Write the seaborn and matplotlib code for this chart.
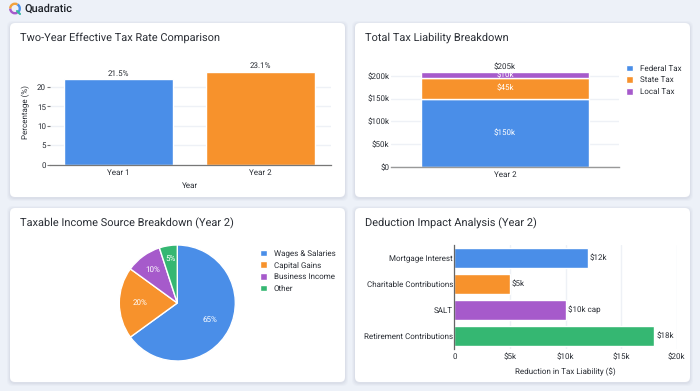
import matplotlib
matplotlib.use("Agg")
import matplotlib.pyplot as plt
from matplotlib.patches import FancyBboxPatch, Arc
import numpy as np
import pandas as pd
import seaborn as sns

BLUE, ORANGE, PURPLE, GREEN = "#4A8EE8", "#F7922C", "#A65ACB", "#35B772"
INK, GRID = "#2A2E35", "#EEF1F6"

years = ["Year 1", "Year 2"]
year_bar_heights = [22.1, 24.0]
year_labels = ["21.5%", "23.1%"]

tax_names = ["Federal Tax", "State Tax", "Local Tax"]
tax_values = [150, 45, 13]
tax_labels = ["$150k", "$45k", "$10k"]
tax_total_label = "$205k"

income_names = ["Wages & Salaries", "Capital Gains", "Business Income", "Other"]
income_shares = [65, 20, 10, 5]

deduction_names = ["Mortgage Interest", "Charitable Contributions", "SALT", "Retirement Contributions"]
deduction_values = [12, 5, 10, 18]
deduction_labels = ["$12k", "$5k", "$10k cap", "$18k"]

sns.set_theme(style="white")
plt.rcParams["font.family"] = ["Roboto", "DejaVu Sans"]
plt.rcParams["text.color"] = INK
plt.rcParams["text.hinting"] = "no_hinting"
plt.rcParams["text.hinting_factor"] = 1

W, H = 700, 391
fig = plt.figure(figsize=(W / 100, H / 100), dpi=100, facecolor="#EDF1F8")


def px_axes(left, top, right, bottom, **kw):
    return fig.add_axes([left / W, 1 - bottom / H, (right - left) / W, (bottom - top) / H], **kw)


bg = fig.add_axes([0, 0, 1, 1], zorder=-1)
bg.set_xlim(0, W)
bg.set_ylim(H, 0)
bg.axis("off")

for x0, y0, x1, y1 in [(10, 23, 345, 197), (355, 23, 690, 197), (10, 208, 345, 382), (355, 208, 690, 382)]:
    for grow, alpha in [(3, 0.03), (2, 0.04), (1, 0.05)]:
        bg.add_patch(FancyBboxPatch((x0 - grow, y0 - grow + 1), x1 - x0 + 2 * grow, y1 - y0 + 2 * grow,
                                    boxstyle="round,pad=0,rounding_size=6", fc="#5A6A8A", ec="none", alpha=alpha))
    bg.add_patch(FancyBboxPatch((x0, y0), x1 - x0, y1 - y0, boxstyle="round,pad=0,rounding_size=5",
                                fc="white", ec="none"))

for x, y, txt in [(20, 38, "Two-Year Effective Tax Rate Comparison"), (365, 38, "Total Tax Liability Breakdown"),
                  (20, 223.5, "Taxable Income Source Breakdown (Year 2)"), (365, 223.5, "Deduction Impact Analysis (Year 2)")]:
    bg.text(x, y, txt, fontsize=7.85, va="center", ha="left", color=INK)

bg.text(24, 8.5, "Quadratic", fontsize=8.0, va="center", ha="left", fontweight="medium", color="#1E2228")
for start, end, c in [(-60, 60, "#4A8EE8"), (60, 180, "#A65ACB"), (180, 300, "#F2A23C")]:
    bg.add_patch(Arc((15, 8.5), 9.5, 9.5, theta1=start, theta2=end, color=c, lw=1.7))
bg.plot([17, 20], [11, 14], color="#35B7A0", lw=1.5, solid_capstyle="round")

TICK = 5.95

# Panel 1: effective tax rate
ax = px_axes(50, 60, 331, 164.5)
df = pd.DataFrame({"year": years, "rate": year_bar_heights})
sns.barplot(data=df, x="year", y="rate", hue="year", palette=[BLUE, ORANGE], width=0.768, saturation=1,
            legend=False, ax=ax)
ax.set_xlim(-0.482, 1.496)
ax.set_ylim(0, 27)
ax.set_yticks([0, 5, 10, 15, 20])
ax.yaxis.grid(True, color=GRID, lw=1)
ax.set_axisbelow(True)
ax.set_ylabel("Percentage (%)", fontsize=TICK, labelpad=5, color=INK)
ax.set_xlabel("Year", fontsize=TICK, labelpad=4, color=INK)
for container, label in zip(ax.containers, year_labels):
    ax.bar_label(container, labels=[label], fontsize=TICK, padding=1.2, color=INK)
ax.tick_params(axis="y", length=2, width=0.8, color="#777777", labelsize=TICK, pad=1, labelcolor=INK, left=True)
ax.tick_params(axis="x", length=0, labelsize=TICK, pad=3, labelcolor=INK)
sns.despine(ax=ax, left=True, top=True, right=True)
ax.spines["bottom"].set_color("#777777")
ax.spines["bottom"].set_linewidth(0.9)
ax.patch.set_alpha(0)

# Panel 2: tax liability stacked bar
ax = px_axes(391, 60, 619, 166.7)
bottoms = np.concatenate([[0], np.cumsum(tax_values)[:-1]])
for name, value, bottom, color, label in zip(tax_names, tax_values, bottoms, [BLUE, ORANGE, PURPLE], tax_labels):
    sns.barplot(x=["Year 2"], y=[value], bottom=bottom, color=color, saturation=1, width=0.733, label=name, ax=ax)
    ax.bar_label(ax.containers[-1], labels=[label], label_type="center", color="white", fontsize=TICK)
ax.text(0, sum(tax_values) + 3, tax_total_label, ha="center", va="bottom", fontsize=TICK, color=INK)
ax.set_xlim(-0.5, 0.5)
ax.set_ylim(0, 235)
ax.set_yticks([0, 50, 100, 150, 200], ["$0", "$50k", "$100k", "$150k", "$200k"])
ax.yaxis.grid(True, color=GRID, lw=1)
ax.set_axisbelow(True)
ax.set_xlabel("")
ax.set_ylabel("")
ax.tick_params(axis="both", length=0, labelsize=TICK, labelcolor=INK)
ax.tick_params(axis="y", pad=1)
ax.tick_params(axis="x", pad=3)
sns.despine(ax=ax, left=True, top=True, right=True)
ax.spines["bottom"].set_color("#999999")
ax.spines["bottom"].set_linewidth(1)
ax.patch.set_alpha(0)
handles, labels = ax.get_legend_handles_labels()
ax.get_legend().remove()
legend_kw = dict(loc="upper left", frameon=False, fontsize=TICK, handlelength=0.88, handleheight=0.88,
                 handletextpad=0.8, labelspacing=0.46, borderpad=0, borderaxespad=0, labelcolor=INK)
fig.legend(handles, labels, bbox_to_anchor=(625.7 / W, 1 - 64.5 / H), **legend_kw)

# Panel 3: income pie
ax = px_axes(119.3, 245, 235.3, 361)
wedges, _ = ax.pie(income_shares, colors=[BLUE, ORANGE, PURPLE, GREEN], startangle=90, counterclock=False, radius=1)
ax.set_xlim(-1, 1)
ax.set_ylim(-1, 1)
theta = np.cumsum([0] + income_shares[:-1]) + np.array(income_shares) / 2
for t, share, r in zip(theta, income_shares, [0.63, 0.64, 0.71, 0.77]):
    angle = np.deg2rad(90 - t * 3.6)
    ax.text(r * np.cos(angle), r * np.sin(angle), f"{share}%", color="white", fontsize=TICK, ha="center", va="center")
fig.legend(wedges, income_names, bbox_to_anchor=(260 / W, 1 - 249.5 / H), **legend_kw)

# Panel 4: deductions
ax = px_axes(454.3, 245, 676.7, 349)
df = pd.DataFrame({"name": deduction_names, "value": deduction_values})
sns.barplot(data=df, y="name", x="value", hue="name", palette=[BLUE, ORANGE, PURPLE, GREEN], width=0.8,
            saturation=1, legend=False, orient="h", ax=ax)
ax.set_xlim(0, 20)
ax.set_ylim(3.5, -0.5)
ax.set_xticks([0, 5, 10, 15, 20], ["0", "$5k", "$10k", "$15k", "$20k"])
ax.xaxis.grid(True, color=GRID, lw=1)
ax.set_axisbelow(True)
ax.set_ylabel("")
ax.set_xlabel("Reduction in Tax Liability ($)", fontsize=TICK, labelpad=5, color=INK)
for container, label in zip(ax.containers, deduction_labels):
    ax.bar_label(container, labels=[label], fontsize=TICK, padding=1.5, color=INK)
ax.tick_params(axis="both", length=0, labelsize=TICK, labelcolor=INK)
ax.tick_params(axis="y", pad=1)
ax.tick_params(axis="x", pad=3)
sns.despine(ax=ax, bottom=True, top=True, right=True)
ax.spines["left"].set_color("#666666")
ax.spines["left"].set_linewidth(0.9)
ax.patch.set_alpha(0)

fig.savefig("out.png", dpi=100, facecolor=fig.get_facecolor())
